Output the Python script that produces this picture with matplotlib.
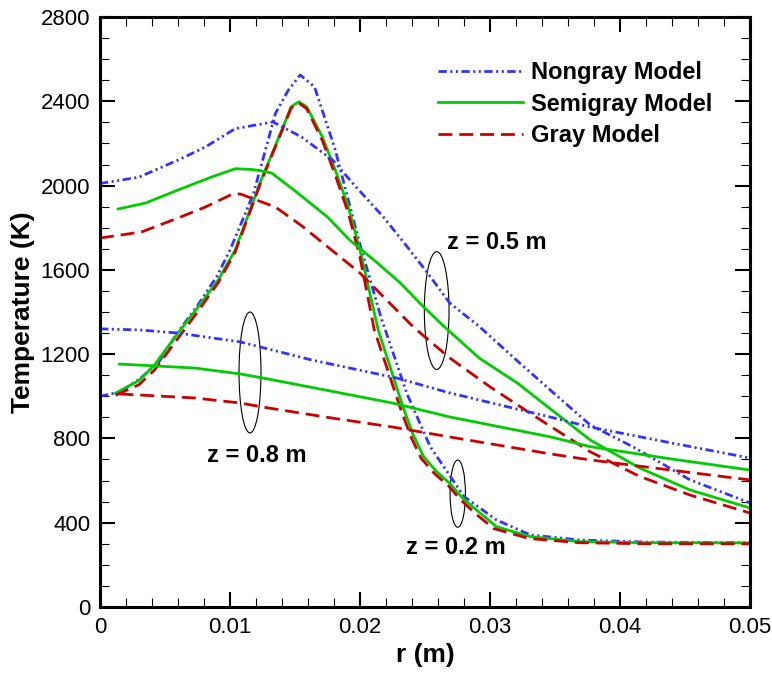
import matplotlib
matplotlib.use("Agg")
import matplotlib.pyplot as plt
from matplotlib.patches import Ellipse
from matplotlib.ticker import MultipleLocator

plt.rcParams['font.family'] = ['Liberation Sans', 'DejaVu Sans']
plt.rcParams['lines.scale_dashes'] = False

# ---- z = 0.2 m ----
r02_nongray = [0, 0.0015, 0.003, 0.0045, 0.006, 0.0075, 0.009, 0.010, 0.0118, 0.0135, 0.0145, 0.0154,
               0.0165, 0.0181, 0.0199, 0.0216, 0.0236, 0.0254, 0.028, 0.0305, 0.0331, 0.0369, 0.042, 0.05]
T02_nongray = [1000, 1020, 1080, 1160, 1305, 1430, 1570, 1694, 1960, 2343, 2454, 2525,
               2469, 2169, 1742, 1378, 1014, 761, 524, 413, 342, 318, 308, 305]

r02_semigray = [0.0012, 0.003, 0.0042, 0.006, 0.0075, 0.0091, 0.0104, 0.0124, 0.0142, 0.0147, 0.0153, 0.0159,
                0.0171, 0.0181, 0.0191, 0.020, 0.0214, 0.0233, 0.0241, 0.0249, 0.0259, 0.0269, 0.0279,
                0.0292, 0.0305, 0.0331, 0.0369, 0.042, 0.05]
T02_semigray = [1015, 1075, 1149, 1300, 1420, 1552, 1694, 2027, 2296, 2374, 2398, 2374,
                2232, 2074, 1900, 1694, 1315, 951, 816, 713, 642, 587, 516,
                448, 381, 334, 310, 305, 304]

r02_gray = [0.0012, 0.003, 0.0042, 0.006, 0.0075, 0.0091, 0.0104, 0.0124, 0.0142, 0.0147, 0.0153, 0.0159,
            0.0171, 0.0181, 0.0191, 0.020, 0.0211, 0.0231, 0.0239, 0.0247, 0.0257, 0.0268, 0.0278,
            0.029, 0.0303, 0.033, 0.0369, 0.042, 0.05]
T02_gray = [1005, 1055, 1125, 1275, 1400, 1540, 1685, 2020, 2290, 2368, 2392, 2365,
            2215, 2050, 1870, 1660, 1315, 945, 810, 706, 635, 575, 505,
            437, 372, 325, 305, 300, 300]

# ---- z = 0.5 m ----
r05_nongray = [0, 0.003, 0.006, 0.0081, 0.0104, 0.0133, 0.0155, 0.0179, 0.0196, 0.0218, 0.0235, 0.0252,
               0.0269, 0.0292, 0.0321, 0.035, 0.0377, 0.041, 0.0454, 0.05]
T05_nongray = [2010, 2040, 2121, 2183, 2270, 2302, 2231, 2121, 2000, 1851, 1720, 1585,
               1443, 1330, 1168, 1010, 864, 760, 603, 494]

r05_semigray = [0.0014, 0.0035, 0.006, 0.0086, 0.0104, 0.0118, 0.0132, 0.015, 0.0175, 0.0192, 0.0212,
                0.0231, 0.0248, 0.0264, 0.0292, 0.0321, 0.035, 0.0377, 0.0415, 0.0454, 0.05]
T05_semigray = [1889, 1917, 1979, 2041, 2080, 2076, 2060, 1975, 1851, 1742, 1640,
                1538, 1430, 1335, 1180, 1063, 923, 793, 660, 555, 470]

r05_gray = [0, 0.0032, 0.006, 0.0081, 0.0102, 0.0108, 0.0135, 0.0155, 0.020, 0.0241, 0.0269, 0.030,
            0.0333, 0.0377, 0.0415, 0.0454, 0.05]
T05_gray = [1751, 1780, 1846, 1898, 1960, 1960, 1898, 1810, 1585, 1329, 1182, 1045,
            911, 737, 620, 531, 446]

# ---- z = 0.8 m ----
r08_nongray = [0, 0.003, 0.006, 0.0108, 0.0163, 0.0228, 0.0269, 0.0346, 0.0377, 0.044, 0.05]
T08_nongray = [1320, 1315, 1300, 1258, 1172, 1087, 1016, 902, 854, 778, 707]

r08_semigray = [0.0015, 0.0073, 0.0108, 0.0125, 0.0163, 0.0225, 0.0269, 0.0346, 0.0377, 0.044, 0.05]
T08_semigray = [1153, 1134, 1106, 1087, 1042, 968, 902, 808, 761, 702, 650]

r08_gray = [0.0015, 0.0073, 0.0108, 0.0125, 0.0175, 0.0225, 0.0269, 0.0346, 0.0377, 0.044, 0.05]
T08_gray = [1011, 992, 968, 949, 900, 854, 807, 727, 698, 649, 603]

model_names = ['Nongray Model', 'Semigray Model', 'Gray Model']

# annotations: label text, text position, ellipse centre and size (r, T)
z_labels = ['z = 0.5 m', 'z = 0.8 m', 'z = 0.2 m']
z_label_pos = [(0.0305, 1730), (0.0121, 721), (0.0274, 280)]
ellipse_xy = [(0.0259, 1407), (0.01154, 1113), (0.02752, 538)]
ellipse_wh = [(0.0019, 559), (0.00169, 574), (0.00118, 319)]

blue = '#3333ff'
green = '#00cc00'
red = '#cc0000'
lw = 2.0
styles = [dict(color=blue, lw=lw, dashes=(6, 2.5, 1.5, 2.5, 1.5, 2.5)),
          dict(color=green, lw=lw, linestyle='-'),
          dict(color=red, lw=lw, dashes=(10, 5))]

fig = plt.figure(figsize=(7.72, 6.73), dpi=100)
ax = fig.add_axes([0.1295, 0.0981, 0.842, 0.8766])

curves = [(r02_nongray, T02_nongray, r02_semigray, T02_semigray, r02_gray, T02_gray),
          (r05_nongray, T05_nongray, r05_semigray, T05_semigray, r05_gray, T05_gray),
          (r08_nongray, T08_nongray, r08_semigray, T08_semigray, r08_gray, T08_gray)]

for k, c in enumerate(curves):
    for m in range(3):
        ax.plot(c[2 * m], c[2 * m + 1], label=model_names[m] if k == 0 else None, **styles[m])

for txt, pos, xy, wh in zip(z_labels, z_label_pos, ellipse_xy, ellipse_wh):
    ax.add_patch(Ellipse(xy, wh[0], wh[1], fill=False, edgecolor='black', lw=0.8))
    ax.text(pos[0], pos[1], txt, ha='center', va='center', fontsize=17, fontweight='bold')

ax.set_xlim(0, 0.05)
ax.set_ylim(0, 2800)
ax.set_xticks([0, 0.01, 0.02, 0.03, 0.04, 0.05])
ax.set_xticklabels(['0', '0.01', '0.02', '0.03', '0.04', '0.05'])
ax.xaxis.set_minor_locator(MultipleLocator(0.002))
ax.yaxis.set_major_locator(MultipleLocator(400))
ax.yaxis.set_minor_locator(MultipleLocator(100))
ax.tick_params(which='both', direction='in', top=True, right=True)
ax.tick_params(which='major', length=11, width=1.5, labelsize=16, pad=7)
ax.tick_params(which='minor', length=6.5, width=0.8)
for s in ax.spines.values():
    s.set_linewidth(2.2)

ax.set_xlabel('r (m)', fontsize=19, fontweight='bold', labelpad=4)
ax.set_ylabel('Temperature (K)', fontsize=19, fontweight='bold', labelpad=4)

ax.legend(loc='upper left', bbox_to_anchor=(0.52, 0.925), frameon=False,
          prop={'weight': 'bold', 'size': 17}, handlelength=3.6, handletextpad=0.35,
          labelspacing=0.35, borderpad=0, borderaxespad=0)

fig.savefig('out.png', dpi=100)
